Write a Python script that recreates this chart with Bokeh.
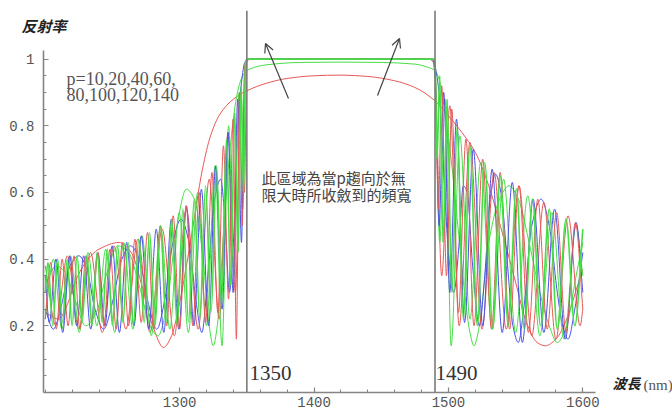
from bokeh.plotting import figure
from bokeh.models import FixedTicker, Label, Arrow, OpenHead
from bokeh.embed import file_html
from bokeh.resources import INLINE

# ---------------- data ----------------
periods = [10, 20, 40, 60, 80, 100, 120, 140]
band_edges = [1350, 1490]
x_ticks = [1300, 1400, 1500, 1600]
y_ticks = [0.2, 0.4, 0.6, 0.8, 1.0]
y_tick_labels = ["0.2", "0.4", "0.6", "0.8", "1"]

# (wavelength nm, reflectance) for each number of periods p
p10 = [(1200, 0.24), (1210, 0.22), (1216, 0.26), (1222, 0.33), (1230, 0.39), (1240, 0.43),
       (1255, 0.45), (1264, 0.42), (1272, 0.32), (1280, 0.20), (1288, 0.135), (1294, 0.17),
       (1300, 0.27), (1308, 0.45), (1317, 0.67), (1323, 0.77), (1330, 0.835), (1340, 0.88),
       (1350, 0.905), (1365, 0.928), (1380, 0.942), (1400, 0.95), (1420, 0.952), (1440, 0.948),
       (1460, 0.935), (1475, 0.915), (1490, 0.875), (1500, 0.83), (1510, 0.78), (1520, 0.72),
       (1530, 0.62), (1540, 0.48), (1550, 0.33), (1558, 0.21), (1566, 0.15), (1572, 0.14),
       (1580, 0.16), (1588, 0.22), (1596, 0.32), (1600, 0.37)]

p20 = [(1200, 0.32), (1208, 0.38), (1215, 0.36), (1222, 0.28), (1230, 0.20), (1238, 0.24),
       (1246, 0.36), (1254, 0.44), (1262, 0.42), (1270, 0.32), (1278, 0.20), (1284, 0.17),
       (1290, 0.25), (1298, 0.50), (1305, 0.61), (1311, 0.58), (1317, 0.42), (1322, 0.20),
       (1325, 0.14), (1328, 0.20), (1333, 0.50), (1338, 0.75), (1343, 0.90), (1347, 0.95),
       (1352, 0.97), (1365, 0.983), (1390, 0.99), (1420, 0.991), (1450, 0.99), (1475, 0.985),
       (1485, 0.975), (1490, 0.965), (1493, 0.94), (1497, 0.85), (1502, 0.70), (1507, 0.50),
       (1512, 0.30), (1516, 0.18), (1519, 0.14), (1523, 0.20), (1530, 0.45), (1538, 0.58),
       (1545, 0.62), (1552, 0.58), (1560, 0.45), (1568, 0.30), (1575, 0.20), (1581, 0.15),
       (1588, 0.20), (1595, 0.35), (1600, 0.45)]

p40 = [(1200, 0.25), (1206, 0.19), (1212, 0.26), (1218.5, 0.38), (1225, 0.41), (1231, 0.37),
       (1237, 0.25), (1243.5, 0.19), (1250, 0.27), (1257, 0.40), (1263.5, 0.44), (1270, 0.40),
       (1276.5, 0.27), (1283, 0.19), (1289, 0.28), (1295, 0.45), (1301, 0.52), (1307, 0.45),
       (1312, 0.28), (1316.5, 0.18), (1321, 0.35), (1326, 0.58), (1330.5, 0.64), (1334, 0.50),
       (1337, 0.30), (1340, 0.45), (1343, 0.78), (1346, 0.93), (1348.5, 0.99), (1352, 1.0),
       (1486, 1.0), (1489, 0.99), (1493, 0.90), (1496, 0.70), (1500, 0.42), (1504, 0.30),
       (1508, 0.45), (1511, 0.62), (1514, 0.60), (1518, 0.38), (1523, 0.20), (1527, 0.35),
       (1531, 0.58), (1535, 0.655), (1539, 0.60), (1544, 0.38), (1548, 0.20), (1552, 0.15),
       (1556, 0.25), (1562, 0.50), (1569, 0.58), (1575, 0.50), (1581, 0.30), (1585, 0.20),
       (1589, 0.16), (1594, 0.25), (1600, 0.42)]

p60 = [(1200, 0.38), (1208, 0.20), (1216.5, 0.41), (1225, 0.19), (1233.7, 0.42), (1242.4, 0.18),
       (1251.2, 0.44), (1260, 0.19), (1269, 0.46), (1278, 0.18), (1287, 0.49), (1296, 0.17),
       (1305, 0.55), (1313.8, 0.19), (1322, 0.64), (1329.5, 0.22), (1336, 0.78), (1341.5, 0.30),
       (1345.5, 0.90), (1348.2, 0.60), (1350, 0.99), (1352, 1.0), (1488, 1.0), (1490, 0.95),
       (1495, 0.35), (1501, 0.86), (1508, 0.20), (1516, 0.75), (1525, 0.19), (1534, 0.66),
       (1543, 0.19), (1552.5, 0.62), (1562, 0.17), (1571, 0.57), (1580, 0.16), (1589, 0.53),
       (1598, 0.20), (1600, 0.25)]

p80 = [(1200, 0.22), (1206, 0.40), (1212.4, 0.19), (1218.8, 0.41), (1225.3, 0.18), (1231.8, 0.42),
       (1238.4, 0.20), (1245, 0.43), (1251.7, 0.18), (1258.4, 0.45), (1265.2, 0.19), (1272, 0.47),
       (1278.9, 0.17), (1285.8, 0.50), (1292.7, 0.19), (1299.6, 0.54), (1306.5, 0.18), (1313.4, 0.60),
       (1320, 0.20), (1326.4, 0.68), (1331.5, 0.14), (1336.4, 0.80), (1340.5, 0.35), (1344.2, 0.90),
       (1347, 0.55), (1349.2, 0.98), (1351, 1.0), (1488.5, 1.0), (1490, 0.96), (1493.5, 0.45),
       (1497.5, 0.88), (1502, 0.14), (1508.5, 0.77), (1516, 0.22), (1524, 0.69), (1532.5, 0.19),
       (1541, 0.64), (1550, 0.18), (1559, 0.59), (1568, 0.17), (1577, 0.54), (1586, 0.16),
       (1595, 0.50), (1600, 0.35)]

p100 = [(1200, 0.35), (1203, 0.21), (1208, 0.40), (1213, 0.18), (1218.2, 0.41), (1223.4, 0.20),
        (1228.6, 0.41), (1233.8, 0.19), (1239.1, 0.42), (1244.4, 0.20), (1249.8, 0.44), (1255.2, 0.18),
        (1260.6, 0.45), (1266, 0.20), (1271.5, 0.47), (1277, 0.19), (1282.6, 0.49), (1288.2, 0.18),
        (1293.8, 0.52), (1299.4, 0.19), (1305, 0.56), (1310.6, 0.20), (1316.2, 0.61), (1321.6, 0.20),
        (1326.8, 0.68), (1331.6, 0.25), (1336, 0.78), (1339.8, 0.30), (1343.2, 0.88), (1346, 0.45),
        (1348.4, 0.97), (1350.5, 1.0), (1488.5, 1.0), (1490, 0.97), (1493, 0.50), (1496.5, 0.90),
        (1501, 0.30), (1506, 0.82), (1512, 0.21), (1518.5, 0.73), (1525.5, 0.20), (1532.5, 0.67),
        (1540, 0.18), (1547.5, 0.63), (1555, 0.15), (1563, 0.58), (1571, 0.18), (1579, 0.55),
        (1587, 0.16), (1595, 0.51), (1600, 0.30)]

p120 = [(1200, 0.22), (1204, 0.39), (1208.3, 0.19), (1212.6, 0.40), (1217, 0.20), (1221.4, 0.41),
        (1225.8, 0.19), (1230.2, 0.41), (1234.7, 0.21), (1239.2, 0.42), (1243.7, 0.20), (1248.2, 0.43),
        (1252.8, 0.19), (1257.4, 0.45), (1262, 0.20), (1266.7, 0.46), (1271.4, 0.21), (1276.1, 0.48),
        (1280.8, 0.19), (1285.6, 0.50), (1290.4, 0.20), (1295.2, 0.53), (1300, 0.19), (1304.9, 0.56),
        (1309.8, 0.20), (1314.6, 0.60), (1319.3, 0.21), (1324, 0.66), (1328.4, 0.24), (1332.6, 0.74),
        (1336.4, 0.28), (1339.8, 0.82), (1342.2, 0.16), (1344.6, 0.90), (1346.6, 0.50), (1348.5, 0.98),
        (1350, 1.0), (1489, 1.0), (1490, 0.98), (1492.5, 0.55), (1495, 0.92), (1498.5, 0.35),
        (1502.5, 0.85), (1507.5, 0.24), (1513, 0.76), (1519, 0.20), (1525.5, 0.70), (1532, 0.19),
        (1538.5, 0.66), (1545.5, 0.19), (1552.5, 0.62), (1559.5, 0.18), (1566.5, 0.58), (1573.5, 0.19),
        (1580.5, 0.54), (1587.5, 0.18), (1594.5, 0.51), (1600, 0.25)]

p140 = [(1200, 0.30), (1202, 0.39), (1205.6, 0.20), (1209.2, 0.40), (1212.8, 0.21), (1216.4, 0.40),
        (1220, 0.20), (1223.7, 0.41), (1227.4, 0.21), (1231.1, 0.41), (1234.8, 0.20), (1238.6, 0.42),
        (1242.4, 0.21), (1246.2, 0.43), (1250, 0.20), (1253.9, 0.44), (1257.8, 0.21), (1261.7, 0.45),
        (1265.6, 0.20), (1269.6, 0.46), (1273.6, 0.21), (1277.6, 0.48), (1281.7, 0.20), (1285.8, 0.50),
        (1289.9, 0.21), (1294, 0.52), (1298.2, 0.20), (1302.4, 0.55), (1306.6, 0.21), (1310.8, 0.58),
        (1315, 0.22), (1319.3, 0.62), (1323.4, 0.24), (1327.5, 0.68), (1331.2, 0.26), (1334.8, 0.76),
        (1338, 0.32), (1341, 0.84), (1343.5, 0.42), (1345.8, 0.92), (1347.5, 0.60), (1349, 0.99),
        (1350, 1.0), (1489, 1.0), (1490, 0.99), (1491.5, 0.70), (1493.5, 0.95), (1496, 0.45),
        (1499, 0.88), (1502.5, 0.30), (1506.5, 0.80), (1511, 0.22), (1516, 0.74), (1521.5, 0.20),
        (1527, 0.69), (1533, 0.19), (1538.5, 0.65), (1544.5, 0.20), (1550.5, 0.61), (1556.5, 0.19),
        (1562.5, 0.58), (1568.5, 0.20), (1575, 0.55), (1581, 0.19), (1587.5, 0.52), (1594, 0.20),
        (1600, 0.49)]

curves = [p10, p20, p40, p60, p80, p100, p120, p140]
palette = ["#e85858", "#46de46", "#4a50e6"]

# ---------------- figure ----------------
FL, FT, FB, W, H = 43, 10, 392, 672, 414      # frame left/top/bottom in page px
X0, SX = 1198.7, 1.344                        # x at frame left, px per nm
SY = 333.4                                    # px per unit reflectance
X1 = X0 + (W - FL) / SX
Y1 = (FB - FT) / SY

p = figure(width=W, height=H, x_range=(X0, X1), y_range=(0, Y1),
           output_backend="svg", toolbar_location=None,
           min_border_left=FL, min_border_right=0, min_border_top=FT,
           min_border_bottom=H - FB)
p.outline_line_color = None
p.grid.visible = False
p.background_fill_color = "white"
p.border_fill_color = "white"


def dx(px):
    return X0 + (px - FL) / SX


def dy(py):
    return (FB - py) / SY


def smooth_segments(xs, ys):
    """Smooth (monotone cubic) bezier pieces through the read points."""
    n = len(xs)
    h = [xs[i + 1] - xs[i] for i in range(n - 1)]
    d = [(ys[i + 1] - ys[i]) / h[i] for i in range(n - 1)]
    m = [0.0] * n
    m[0], m[-1] = d[0], d[-1]
    for i in range(1, n - 1):
        if d[i - 1] * d[i] <= 0:
            m[i] = 0.0
        else:
            w1 = 2 * h[i] + h[i - 1]
            w2 = h[i] + 2 * h[i - 1]
            m[i] = (w1 + w2) / (w1 / d[i - 1] + w2 / d[i])
    seg = dict(x0=[], y0=[], x1=[], y1=[], cx0=[], cy0=[], cx1=[], cy1=[])
    for i in range(n - 1):
        seg["x0"].append(xs[i]); seg["y0"].append(ys[i])
        seg["x1"].append(xs[i + 1]); seg["y1"].append(ys[i + 1])
        seg["cx0"].append(xs[i] + h[i] / 3); seg["cy0"].append(ys[i] + m[i] * h[i] / 3)
        seg["cx1"].append(xs[i + 1] - h[i] / 3); seg["cy1"].append(ys[i + 1] - m[i + 1] * h[i] / 3)
    return seg


for i, pts in enumerate(curves):
    xs = [a for a, b in pts]
    ys = [b for a, b in pts]
    lw = 1.6 if i == len(curves) - 1 else 1.0
    p.bezier(**smooth_segments(xs, ys), line_color=palette[i % 3], line_width=lw)

p.segment(x0=band_edges, y0=[0, 0], x1=band_edges, y1=[Y1, Y1],
          line_color="#7a7a7a", line_width=1.6)

axis_col = "#858585"
xa = p.xaxis[0]
xa.ticker = FixedTicker(ticks=x_ticks, minor_ticks=list(range(1200, 1601, 20)))
xa.bounds = (X0, 1609.5)
ya = p.yaxis[0]
ya.ticker = FixedTicker(ticks=y_ticks, minor_ticks=[round(0.05 * k, 2) for k in range(1, 21)])
ya.bounds = (0, 1.025)
ya.major_label_overrides = {t: s for t, s in zip(y_ticks, y_tick_labels)}
for ax in (xa, ya):
    ax.axis_line_color = axis_col
    ax.axis_line_width = 1.6
    ax.major_tick_line_color = axis_col
    ax.minor_tick_line_color = axis_col
    ax.major_tick_line_width = 1.2
    ax.minor_tick_line_width = 1.0
    ax.major_tick_in = 5
    ax.major_tick_out = 0
    ax.minor_tick_in = 3
    ax.minor_tick_out = 0
    ax.major_label_text_font = "Liberation Mono"
    ax.major_label_text_font_size = "14px"
    ax.major_label_text_color = "#555555"
xa.major_label_standoff = 4
ya.major_label_standoff = 9

# y axis title at the top-left, outside the frame
p.title.text = "反射率"
p.title.align = "left"
p.title.offset = 21 - FL
p.title.standoff = -50
p.title.text_font = "Noto Sans CJK TC"
p.title.text_font_size = "15px"
p.title.text_font_style = "bold italic"
p.title.text_color = "#222222"


def add_text(txt, px, py, font, size, color, style="normal", baseline="middle"):
    p.add_layout(Label(x=dx(px), y=dy(py), text=txt, text_font=font,
                       text_font_size=size, text_color=color, text_font_style=style,
                       text_baseline=baseline, text_align="left"))


add_text("波長", 612, 392, "Noto Sans CJK TC", "14px", "#222222", "bold italic", "bottom")
add_text("(nm)", 643, 392, "Liberation Serif", "15px", "#555555", "normal", "bottom")
add_text("p=10,20,40,60,", 66, 78, "Liberation Serif", "18px", "#555555")
add_text("80,100,120,140", 66, 94, "Liberation Serif", "18px", "#555555")
add_text("此區域為當p趨向於無", 261, 177, "Noto Sans CJK TC", "15px", "#444444")
add_text("限大時所收斂到的頻寬", 261, 194, "Noto Sans CJK TC", "15px", "#444444")
add_text("1350", 249, 372.5, "Liberation Serif", "21px", "#333333")
add_text("1490", 435, 372.5, "Liberation Serif", "21px", "#333333")

for (sx, sy, ex, ey) in [(288, 98, 265, 43), (377, 95, 399, 38)]:
    p.add_layout(Arrow(end=OpenHead(size=9, line_color="#444444", line_width=1.2),
                       x_start=dx(sx), y_start=dy(sy), x_end=dx(ex), y_end=dy(ey),
                       line_color="#444444", line_width=1.2))

open("out.html", "w").write(file_html(p, INLINE))
